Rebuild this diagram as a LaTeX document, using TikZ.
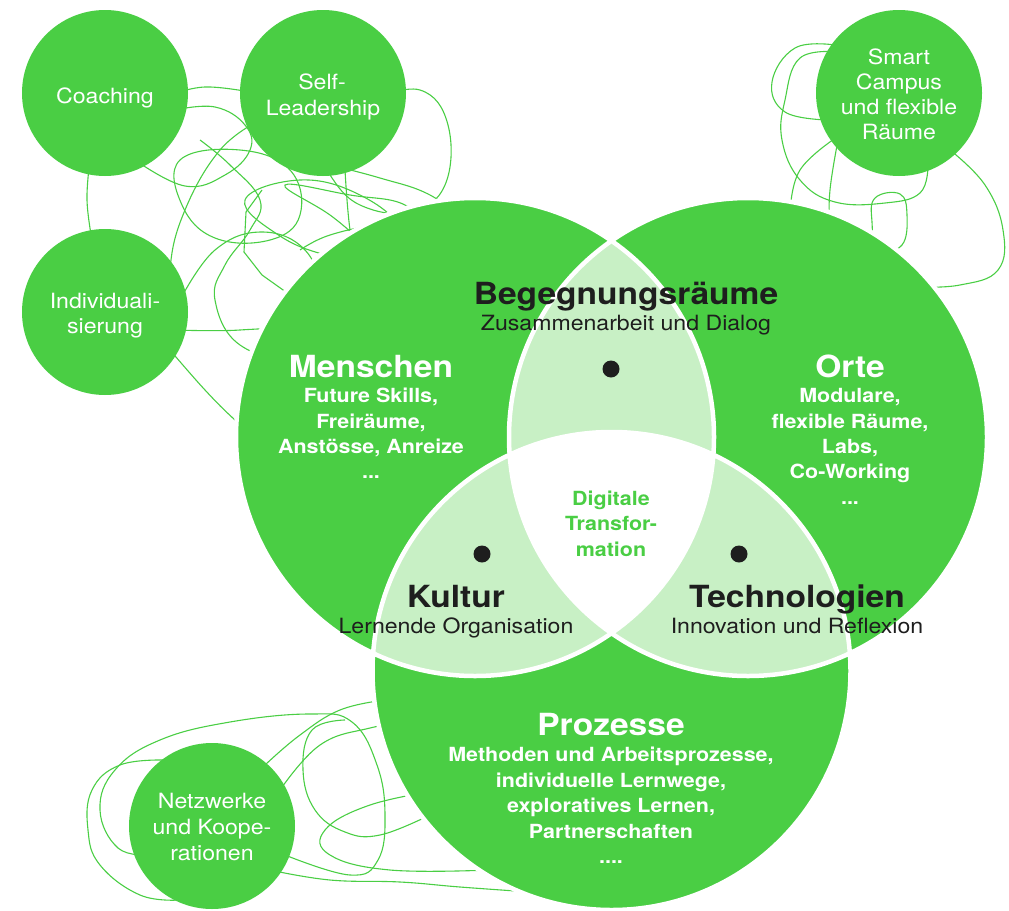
\documentclass[tikz,border=0pt]{standalone}
\usepackage{fontspec}
\setmainfont{TeX Gyre Heros}[FakeStretch=1.1]
\definecolor{vgreen}{RGB}{74,206,68}
\definecolor{vlight}{RGB}{200,240,197}
\definecolor{ink}{RGB}{30,30,30}
\begin{document}
\begin{tikzpicture}[x=1pt,y=-1pt,
  scrib/.style={draw=vgreen, line width=1.1pt},
  bubble/.style={circle, fill=vgreen, minimum size=166pt, inner sep=0pt},
  bubtxt/.style={white, anchor=base, inner sep=0pt, font=\fontsize{21}{25}\selectfont},
  head/.style={anchor=base, inner sep=0pt, font=\fontsize{30.5}{32}\selectfont\bfseries},
  body/.style={anchor=base, inner sep=0pt, font=\fontsize{19.5}{24}\selectfont\bfseries},
  sub/.style={anchor=base, inner sep=0pt, text=ink, font=\fontsize{21}{24}\selectfont},
  dot/.style={circle, fill=ink, minimum size=17pt, inner sep=0pt}]

\useasboundingbox (0,0) rectangle (1009,910);

% ---------- tangled lines behind the bubbles ----------
% upper left
\draw[scrib] plot[smooth, tension=0.7] coordinates {(170,95) (205,87) (250,92)};
\draw[scrib] plot[smooth, tension=0.7] coordinates {(175,110) (215,107) (245,125) (250,150) (225,175) (185,186) (135,160)};
\draw[scrib] plot[smooth, tension=0.7] coordinates {(90,160) (87,200) (92,240)};
\draw[scrib] plot[smooth, tension=0.7] coordinates {(260,120) (220,150) (185,210) (170,270) (175,330)};
\draw[scrib] plot[smooth cycle, tension=0.7] coordinates {(180,160) (240,150) (290,170) (300,215) (270,240) (215,238) (182,205)};
\draw[scrib] plot[tension=0.7] coordinates {(262,190) (246,212) (244,252) (262,275) (300,302) (350,320) (390,330)};
\draw[scrib] plot[smooth, tension=0.7] coordinates {(370,100) (420,90) (448,125) (445,185) (410,212) (360,205) (330,175) (322,150)};
\draw[scrib] plot[smooth, tension=0.7] coordinates {(330,165) (380,178) (430,195) (470,225)};
\draw[scrib] plot[smooth, tension=0.7] coordinates {(175,330) (240,330) (290,322) (318,292) (305,250) (262,232) (215,250) (180,300)};
\draw[scrib] plot[smooth, tension=0.7] coordinates {(170,350) (205,390) (235,420) (265,445)};
\draw[scrib] plot[smooth cycle, tension=0.7] coordinates {(285,185) (330,215) (375,250) (410,260) (430,235) (405,205) (350,195)};
\draw[scrib] plot[smooth, tension=0.7] coordinates {(345,170) (350,230) (360,280) (380,300)};
\draw[scrib] plot[smooth, tension=0.7] coordinates {(300,250) (330,235) (380,225) (420,228)};
\draw[scrib] plot[smooth, tension=0.7] coordinates {(200,140) (230,165) (260,200) (250,230) (225,265) (215,300) (240,345) (300,360) (360,350)};
\draw[scrib] plot[smooth cycle, tension=0.7] coordinates {(245,200) (300,180) (360,195) (400,230) (380,262) (330,256) (280,236)};
% upper right
\draw[scrib] plot[smooth, tension=0.7] coordinates {(835,45) (795,48) (772,82) (785,112) (828,120)};
\draw[scrib] plot[smooth, tension=0.7] coordinates {(840,52) (800,58) (785,100) (782,140) (800,180) (835,202) (885,203) (920,193) (928,165)};
\draw[scrib] plot[smooth, tension=0.7] coordinates {(838,140) (830,190) (830,225) (834,255)};
\draw[scrib] plot[smooth cycle, tension=0.7] coordinates {(875,198) (900,194) (907,215) (902,245) (878,250) (872,222)};
\draw[scrib] plot[smooth, tension=0.7] coordinates {(950,150) (985,185) (1003,230) (998,270) (960,285) (915,287)};
\draw[scrib] plot[smooth, tension=0.7] coordinates {(840,135) (800,170) (790,215)};
% lower left
\draw[scrib] plot[smooth, tension=0.7] coordinates {(150,855) (118,848) (100,810) (115,770) (160,740) (230,722) (310,714) (352,722) (377,765) (385,815) (378,860) (350,875) (285,855)};
\draw[scrib] plot[smooth, tension=0.7] coordinates {(165,760) (120,765) (92,790) (88,830) (100,865) (140,895) (180,900)};
\draw[scrib] plot[smooth, tension=0.7] coordinates {(265,765) (300,735) (340,710) (385,700)};
\draw[scrib] plot[smooth, tension=0.7] coordinates {(280,790) (320,745) (370,728) (420,720)};
\draw[scrib] plot[smooth, tension=0.7] coordinates {(345,720) (312,730) (303,770) (315,810) (345,832) (380,835) (430,815)};
\draw[scrib] plot[smooth, tension=0.7] coordinates {(440,790) (370,805) (325,830) (330,855) (390,870) (490,870)};
\draw[scrib] plot[smooth, tension=0.7] coordinates {(270,870) (330,880) (400,882) (460,887) (530,892)};

% ---------- small bubbles ----------
\node[bubble] (coach) at (105,93) {};
\node[bubble] (self) at (323,93) {};
\node[bubble] (indiv) at (105,312) {};
\node[bubble] (smart) at (899,93) {};
\node[bubble] (netz) at (212,826) {};

\node[bubtxt] (coach1) at (105,103) {Coaching};
\node[bubtxt] (self1) at (322,89) {Self-};
\node[bubtxt] (self2) at (323,115) {Leadership};
\node[bubtxt] (indiv1) at (105,308) {Individuali-};
\node[bubtxt] (indiv2) at (105,333) {sierung};
\node[bubtxt] (smart1) at (899,64) {Smart};
\node[bubtxt] (smart2) at (899,89) {Campus};
\node[bubtxt] (smart3) at (899,114) {und flexible};
\node[bubtxt] (smart4) at (899,139) {Räume};
\node[bubtxt] (netz1) at (212,808) {Netzwerke};
\node[bubtxt] (netz2) at (212,834) {und Koope-};
\node[bubtxt] (netz3) at (212,860) {rationen};

% ---------- three-circle Venn ----------
\coordinate (cM) at (475,437);
\coordinate (cO) at (748,437);
\coordinate (cP) at (611.5,671);
\def\R{239pt}
\fill[vgreen] (cM) circle[radius=\R];
\fill[vgreen] (cO) circle[radius=\R];
\fill[vgreen] (cP) circle[radius=\R];
\begin{scope}
  \clip (cM) circle[radius=\R];
  \fill[vlight] (cO) circle[radius=\R];
  \fill[vlight] (cP) circle[radius=\R];
\end{scope}
\begin{scope}
  \clip (cO) circle[radius=\R];
  \fill[vlight] (cP) circle[radius=\R];
\end{scope}
\begin{scope}
  \clip (cM) circle[radius=\R];
  \clip (cO) circle[radius=\R];
  \fill[white] (cP) circle[radius=\R];
\end{scope}
\draw[white, line width=4.5pt] (cM) circle[radius=\R] (cO) circle[radius=\R] (cP) circle[radius=\R];

% ---------- Venn labels ----------
\node[head, white] (menschen) at (371,377) {Menschen};
\node[body, white] (m1) at (371,402) {Future Skills,};
\node[body, white] (m2) at (371,428) {Freiräume,};
\node[body, white] (m3) at (371,453) {Anstösse, Anreize};
\node[body, white] (m4) at (371,478) {...};

\node[head, white] (orte) at (850,377) {Orte};
\node[body, white] (o1) at (850,402) {Modulare,};
\node[body, white] (o2) at (850,428) {flexible Räume,};
\node[body, white] (o3) at (850,453) {Labs,};
\node[body, white] (o4) at (850,478) {Co-Working};
\node[body, white] (o5) at (850,504) {...};

\node[head, white] (prozesse) at (611,735) {Prozesse};
\node[body, white] (p1) at (611,761) {Methoden und Arbeitsprozesse,};
\node[body, white] (p2) at (611,787) {individuelle Lernwege,};
\node[body, white] (p3) at (611,812) {exploratives Lernen,};
\node[body, white] (p4) at (611,838) {Partnerschaften};
\node[body, white] (p5) at (611,863) {....};

\node[head, text=ink] (beg) at (626,304) {Begegnungsräume};
\node[sub] (beg1) at (626,330) {Zusammenarbeit und Dialog};
\node[head, text=ink] (kultur) at (456,607) {Kultur};
\node[sub] (kultur1) at (456,633) {Lernende Organisation};
\node[head, text=ink] (tech) at (797,607) {Technologien};
\node[sub] (tech1) at (797,633) {Innovation und Reflexion};

\node[body, text=vgreen] (dt1) at (611,505) {Digitale};
\node[body, text=vgreen] (dt2) at (611,530) {Transfor-};
\node[body, text=vgreen] (dt3) at (611,556) {mation};

\node[dot] (dtop) at (611,369) {};
\node[dot] (dleft) at (482,554) {};
\node[dot] (dright) at (739,554) {};
\end{tikzpicture}
\end{document}
